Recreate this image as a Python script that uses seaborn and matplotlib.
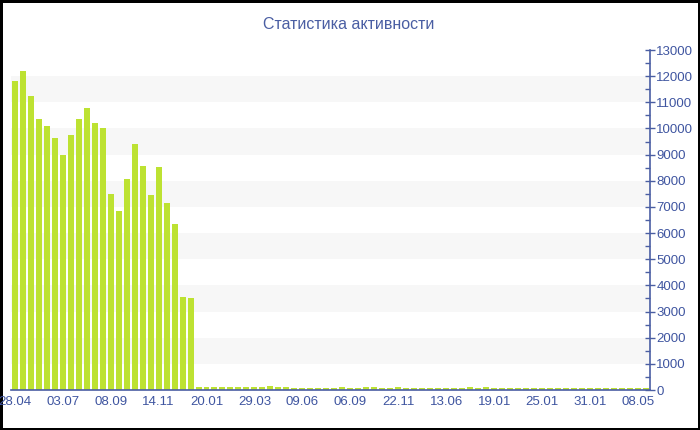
import matplotlib
matplotlib.use("Agg")
import matplotlib.pyplot as plt
import seaborn as sns
import numpy as np
import pandas as pd
from matplotlib.ticker import MultipleLocator

# values per period (80 bars)
big_values = [11800, 12200, 11250, 10350, 10100, 9650, 9000, 9750, 10350, 10800,
              10200, 10030, 7480, 6860, 8070, 9410, 8570, 7460, 8530, 7140,
              6360, 3560, 3510]
small_values = [130, 130, 120, 100, 100, 120, 100, 120, 100, 140,
                100, 100, 90, 80, 90, 90, 80, 90, 110, 80,
                90, 130, 100, 90, 80, 100, 90, 80, 80, 80,
                90, 80, 80, 80, 100, 90, 100, 80, 90, 80,
                90, 80, 90, 80, 80, 90, 80, 80, 90, 80,
                80, 90, 80, 80, 80, 90, 80]
values = big_values + small_values
tick_labels = ["28.04", "03.07", "08.09", "14.11", "20.01", "29.03", "09.06",
               "06.09", "22.11", "13.06", "19.01", "25.01", "31.01", "08.05"]
title = "Статистика активности"

df = pd.DataFrame({"idx": np.arange(len(values)), "value": values})

blue = "#4a5ea3"
label_blue = "#3f55a0"
bar_color = "#bde232"

sns.set_style("white")
plt.rcParams['font.family'] = ['Liberation Sans', 'DejaVu Sans']

fig = plt.figure(figsize=(7, 4.3), dpi=100)
ax = fig.add_axes([0.0153, 0.093, 0.9133, 0.7907])

for lo in range(1000, 13000, 2000):
    ax.axhspan(lo, lo + 1000, color="#f7f7f7", zorder=0, lw=0)

sns.barplot(data=df, x="idx", y="value", color=bar_color, width=0.75,
            saturation=1, linewidth=0, ax=ax, zorder=2)

ax.set_xlim(-0.5, len(values) - 0.5)
ax.set_ylim(0, 13000)
ax.set_xlabel("")
ax.set_ylabel("")

ax.set_xticks(range(0, len(values), 6))
ax.set_xticklabels(tick_labels)
ax.yaxis.tick_right()
ax.yaxis.set_major_locator(MultipleLocator(1000))
ax.yaxis.set_minor_locator(MultipleLocator(500))
ax.tick_params(axis="y", which="major", direction="inout", length=7, width=1,
               color=blue, labelcolor=label_blue, labelsize=9.5, pad=1)
ax.tick_params(axis="y", which="minor", direction="in", length=3.5, width=1,
               color=blue)
ax.tick_params(axis="x", which="major", direction="inout", length=6, width=1,
               color="#555555", labelcolor=label_blue, labelsize=9.5, pad=1)

for side in ["left", "top"]:
    ax.spines[side].set_visible(False)
for side in ["right", "bottom"]:
    ax.spines[side].set_color(blue)
    ax.spines[side].set_linewidth(1.2)
    ax.spines[side].set_zorder(3)

fig.text(0.4986, 0.942, title, ha="center", va="center", fontsize=11.5,
         color=blue)

fig.patch.set_edgecolor("black")
fig.patch.set_linewidth(2.5)

fig.savefig("out.png", dpi=100)
